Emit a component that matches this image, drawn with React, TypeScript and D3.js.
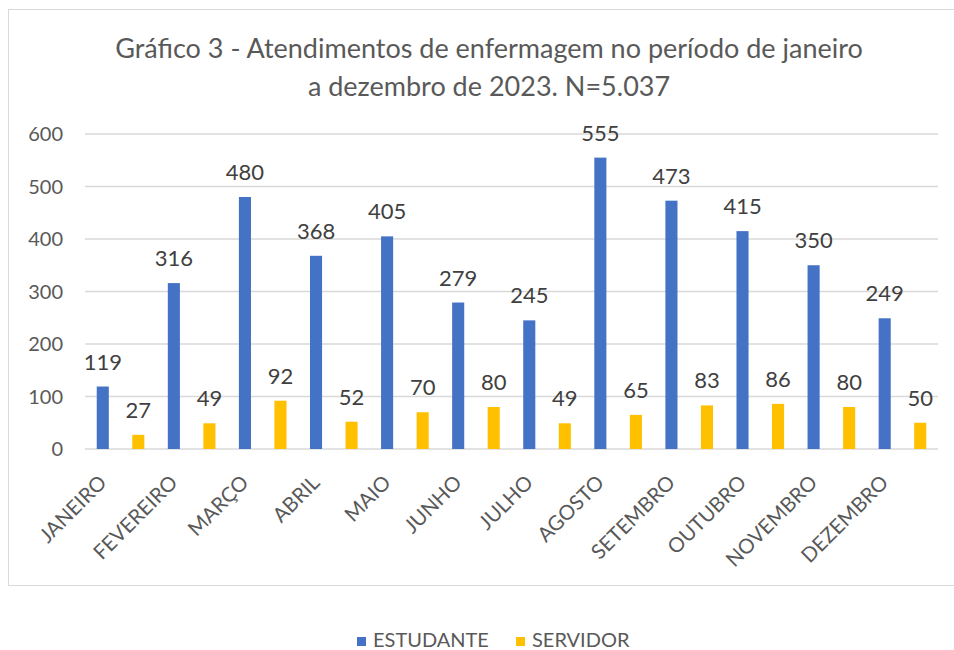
import React from "react"
import * as d3 from "d3"

const months = [
  "JANEIRO", "FEVEREIRO", "MARÇO", "ABRIL", "MAIO", "JUNHO",
  "JULHO", "AGOSTO", "SETEMBRO", "OUTUBRO", "NOVEMBRO", "DEZEMBRO",
]
const estudante = [119, 316, 480, 368, 405, 279, 245, 555, 473, 415, 350, 249]
const servidor = [27, 49, 92, 52, 70, 80, 49, 65, 83, 86, 80, 50]
const seriesNames = ["ESTUDANTE", "SERVIDOR"]
const seriesColors = ["#4472C4", "#FFC000"]
const yTicks = [0, 100, 200, 300, 400, 500, 600]
const titleLines = [
  "Gráfico 3 - Atendimentos de enfermagem no período de janeiro",
  "a dezembro de 2023. N=5.037",
]

const W = 954
const H = 650
const font = "Lato, 'Open Sans', sans-serif"

export default function App() {
  const x = d3.scaleBand().domain(months).range([85, 938]).padding(0)
  const sub = d3.scaleBand().domain(seriesNames).range([0, x.bandwidth()]).padding(0)
  const y = d3.scaleLinear().domain([0, 600]).range([449, 134])
  const barW = sub.bandwidth() * 0.34

  const values = [estudante, servidor]

  return (
    <svg
      width={W}
      height={H}
      style={{ position: "absolute", left: 0, top: 0, background: "#fff" }}
      fontFamily={font}
    >
      <rect x={8.5} y={9.5} width={W} height={576} fill="#fff" stroke="#d9d9d9" />
      {titleLines.map((t, i) => (
        <text
          key={i}
          x={489}
          y={58 + i * 38}
          textAnchor="middle"
          fontSize={27}
          fill="#595959"
        >
          {t}
        </text>
      ))}
      {yTicks.map(t => (
        <g key={t}>
          <line
            x1={85}
            x2={938}
            y1={y(t)}
            y2={y(t)}
            stroke="#d9d9d9"
            strokeWidth={1.5}
          />
          <text
            x={63}
            y={y(t) + 7}
            textAnchor="end"
            fontSize={20}
            fill="#595959"
          >
            {t}
          </text>
        </g>
      ))}
      {values.map((vals, si) =>
        vals.map((v, i) => {
          const cx = (x(months[i]) as number) + (sub(seriesNames[si]) as number) + sub.bandwidth() / 2
          return (
            <g key={si + "-" + i}>
              <rect
                x={cx - barW / 2}
                y={y(v)}
                width={barW}
                height={y(0) - y(v)}
                fill={seriesColors[si]}
              />
              <text
                x={cx}
                y={y(v) - 17}
                textAnchor="middle"
                fontSize={22}
                fill="#404040"
              >
                {v}
              </text>
            </g>
          )
        })
      )}
      {months.map(m => {
        const cx = (x(m) as number) + (sub(seriesNames[0]) as number) + sub.bandwidth() / 2
        const ax = cx + 5
        const ay = 484
        return (
          <text
            key={m}
            x={ax}
            y={ay}
            textAnchor="end"
            fontSize={20.5}
            fill="#595959"
            transform={`rotate(-45, ${ax}, ${ay})`}
          >
            {m}
          </text>
        )
      })}
      {seriesNames.map((s, i) => {
        const lx = i === 0 ? 357 : 516
        return (
          <g key={s}>
            <rect x={lx} y={637} width={9} height={9} fill={seriesColors[i]} />
            <text x={lx + 16} y={647} fontSize={20} fill="#595959">
              {s}
            </text>
          </g>
        )
      })}
    </svg>
  )
}
